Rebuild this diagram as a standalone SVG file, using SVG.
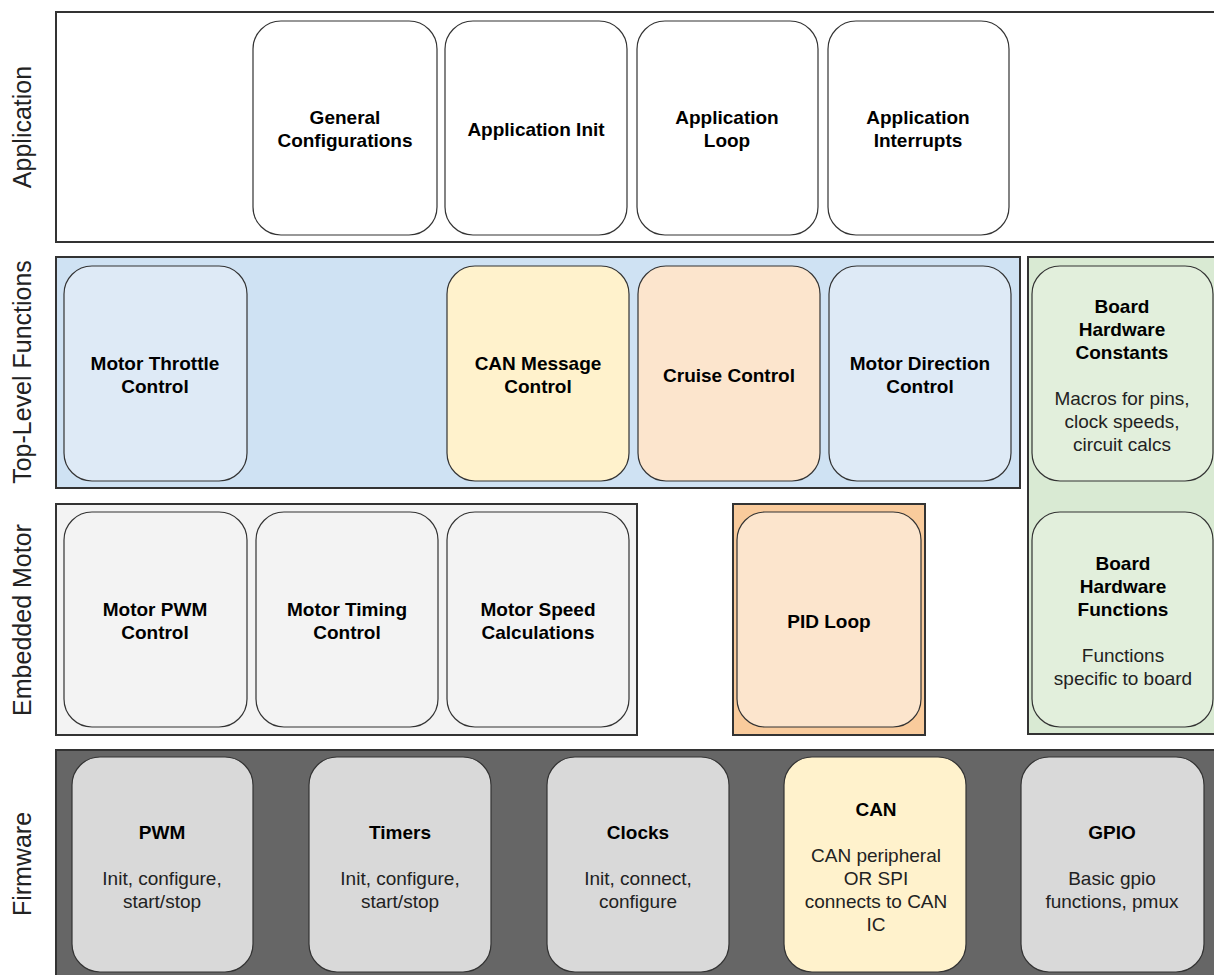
<svg xmlns="http://www.w3.org/2000/svg" width="1214" height="975" viewBox="0 0 1214 975">
<style>
.frame{stroke:#333;stroke-width:2}
.box{stroke:#333;stroke-width:1.2}
text{font-family:"Liberation Sans",Arial,sans-serif;font-size:19px;text-anchor:middle;fill:#000}
.b{font-weight:bold}
.d{fill:#222}
.side{font-size:25px;fill:#222}
</style>
<rect width="1214" height="975" fill="#fff"/>
<g id="side-labels">
<text class="side" transform="translate(31,127) rotate(-90)">Application</text>
<text class="side" transform="translate(31,372) rotate(-90)">Top-Level Functions</text>
<text class="side" transform="translate(31,620) rotate(-90)">Embedded Motor</text>
<text class="side" transform="translate(31,864) rotate(-90)">Firmware</text>
</g>
<g id="layer-application">
<rect class="frame" x="56" y="12" width="1170" height="230" fill="#fff"/>
</g>
<g id="layer-toplevel">
<rect class="frame" x="56" y="257" width="964" height="231" fill="#cfe2f3"/>
</g>
<g id="layer-board">
<rect class="frame" x="1028" y="257" width="200" height="477" fill="#d9ead3"/>
</g>
<g id="layer-embedded">
<rect class="frame" x="56" y="504" width="581" height="231" fill="#f3f3f3"/>
</g>
<g id="layer-pid">
<rect class="frame" x="733" y="504" width="192" height="231" fill="#f9cb9c"/>
</g>
<g id="layer-firmware">
<rect class="frame" x="56" y="750" width="1170" height="240" fill="#666"/>
</g>
<g id="connectors"></g>

<g id="general-configurations"><rect class="box" x="253" y="21" width="184" height="214" rx="28" fill="#fff"/>
<text class="b" x="345" y="123.5">General</text><text class="b" x="345" y="146.5">Configurations</text></g>
<g id="application-init"><rect class="box" x="445" y="21" width="182" height="214" rx="28" fill="#fff"/>
<text class="b" x="536" y="135.5">Application Init</text></g>
<g id="application-loop"><rect class="box" x="637" y="21" width="181" height="214" rx="28" fill="#fff"/>
<text class="b" x="727" y="123.5">Application</text><text class="b" x="727" y="146.5">Loop</text></g>
<g id="application-interrupts"><rect class="box" x="828" y="21" width="181" height="214" rx="28" fill="#fff"/>
<text class="b" x="918" y="123.5">Application</text><text class="b" x="918" y="146.5">Interrupts</text></g>

<g id="motor-throttle-control"><rect class="box" x="64" y="266" width="183" height="215" rx="28" fill="#deeaf6"/>
<text class="b" x="155" y="369.5">Motor Throttle</text><text class="b" x="155" y="392.5">Control</text></g>
<g id="can-message-control"><rect class="box" x="447" y="266" width="182" height="215" rx="28" fill="#fff2cc"/>
<text class="b" x="538" y="369.5">CAN Message</text><text class="b" x="538" y="392.5">Control</text></g>
<g id="cruise-control"><rect class="box" x="638" y="266" width="182" height="215" rx="28" fill="#fce5cd"/>
<text class="b" x="729" y="381.5">Cruise Control</text></g>
<g id="motor-direction-control"><rect class="box" x="829" y="266" width="182" height="215" rx="28" fill="#deeaf6"/>
<text class="b" x="920" y="369.5">Motor Direction</text><text class="b" x="920" y="392.5">Control</text></g>

<g id="board-hardware-constants"><rect class="box" x="1032" y="266" width="181" height="215" rx="28" fill="#e2efdc"/>
<text class="b" x="1122" y="312.5">Board</text><text class="b" x="1122" y="335.5">Hardware</text><text class="b" x="1122" y="358.5">Constants</text>
<text class="d" x="1122" y="404.5">Macros for pins,</text><text class="d" x="1122" y="427.5">clock speeds,</text><text class="d" x="1122" y="450.5">circuit calcs</text></g>
<g id="board-hardware-functions"><rect class="box" x="1032" y="512" width="181" height="215" rx="28" fill="#e2efdc"/>
<text class="b" x="1123" y="569.5">Board</text><text class="b" x="1123" y="592.5">Hardware</text><text class="b" x="1123" y="615.5">Functions</text>
<text class="d" x="1123" y="661.5">Functions</text><text class="d" x="1123" y="684.5">specific to board</text></g>

<g id="motor-pwm-control"><rect class="box" x="64" y="512" width="183" height="215" rx="28" fill="#f3f3f3"/>
<text class="b" x="155" y="615.5">Motor PWM</text><text class="b" x="155" y="638.5">Control</text></g>
<g id="motor-timing-control"><rect class="box" x="256" y="512" width="182" height="215" rx="28" fill="#f3f3f3"/>
<text class="b" x="347" y="615.5">Motor Timing</text><text class="b" x="347" y="638.5">Control</text></g>
<g id="motor-speed-calculations"><rect class="box" x="447" y="512" width="182" height="215" rx="28" fill="#f3f3f3"/>
<text class="b" x="538" y="615.5">Motor Speed</text><text class="b" x="538" y="638.5">Calculations</text></g>
<g id="pid-loop"><rect class="box" x="737" y="512" width="184" height="215" rx="28" fill="#fce5cd"/>
<text class="b" x="829" y="627.5">PID Loop</text></g>

<g id="pwm"><rect class="box" x="72" y="757" width="181" height="215" rx="28" fill="#d9d9d9"/>
<text class="b" x="162" y="838.5">PWM</text><text class="d" x="162" y="884.5">Init, configure,</text><text class="d" x="162" y="907.5">start/stop</text></g>
<g id="timers"><rect class="box" x="309" y="757" width="182" height="215" rx="28" fill="#d9d9d9"/>
<text class="b" x="400" y="838.5">Timers</text><text class="d" x="400" y="884.5">Init, configure,</text><text class="d" x="400" y="907.5">start/stop</text></g>
<g id="clocks"><rect class="box" x="547" y="757" width="182" height="215" rx="28" fill="#d9d9d9"/>
<text class="b" x="638" y="838.5">Clocks</text><text class="d" x="638" y="884.5">Init, connect,</text><text class="d" x="638" y="907.5">configure</text></g>
<g id="can"><rect class="box" x="784" y="757" width="182" height="215" rx="28" fill="#fff2cc"/>
<text class="b" x="876" y="815.5">CAN</text><text class="d" x="876" y="861.5">CAN peripheral</text><text class="d" x="876" y="884.5">OR SPI</text><text class="d" x="876" y="907.5">connects to CAN</text><text class="d" x="876" y="930.5">IC</text></g>
<g id="gpio"><rect class="box" x="1021" y="757" width="183" height="215" rx="28" fill="#d9d9d9"/>
<text class="b" x="1112" y="838.5">GPIO</text><text class="d" x="1112" y="884.5">Basic gpio</text><text class="d" x="1112" y="907.5">functions, pmux</text></g>
</svg>
